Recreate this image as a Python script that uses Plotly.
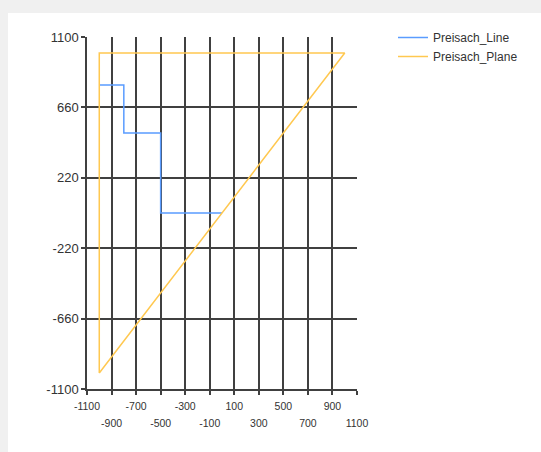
import plotly.graph_objects as go

# Data
line_x = [-1000, -800, -800, -500, -500, 0]
line_y = [800, 800, 500, 500, 0, 0]
plane_x = [-1000, -1000, 1000, -1000]
plane_y = [-1000, 1000, 1000, -1000]

x_ticks_row1 = [-1100, -700, -300, 100, 500, 900]
x_ticks_row2 = [-900, -500, -100, 300, 700, 1100]
x_ticks_all = [-1100, -900, -700, -500, -300, -100, 100, 300, 500, 700, 900, 1100]
y_ticks = [-1100, -660, -220, 220, 660, 1100]

W, H = 541, 452
L, R, T, B = 87, 184, 37, 63
pw, ph = W - L - R, H - T - B

def px_x(p):
    return (p - L) / pw

def px_y(p):
    return (H - B - p) / ph

fig = go.Figure()
fig.add_trace(go.Scatter(x=line_x, y=line_y, mode="lines", name="Preisach_Line",
                         line=dict(color="#5a9cff", width=1.5)))
fig.add_trace(go.Scatter(x=plane_x, y=plane_y, mode="lines", name="Preisach_Plane",
                         line=dict(color="#ffc850", width=1.5)))
# invisible trace to host second label row
fig.add_trace(go.Scatter(x=[x_ticks_all[0], x_ticks_all[-1]], y=[y_ticks[0], y_ticks[0]],
                         xaxis="x2", mode="lines", line=dict(width=0), opacity=0,
                         showlegend=False, hoverinfo="skip"))

font_family = "Liberation Sans, Arial, sans-serif"
grid_col = "#404040"

fig.update_layout(
    width=W, height=H,
    margin=dict(l=L, r=R, t=T, b=B),
    paper_bgcolor="#f0f0f0",
    plot_bgcolor="white",
    font=dict(family=font_family, color="#222222"),
    showlegend=True,
    legend=dict(x=px_x(393), y=px_y(23), xanchor="left", yanchor="top",
                font=dict(size=12, color="#333333"), bgcolor="rgba(0,0,0,0)",
                itemwidth=30, tracegroupgap=0),
    shapes=[dict(type="rect", xref="paper", yref="paper",
                 x0=px_x(8), x1=px_x(W + 5), y0=px_y(H + 5), y1=px_y(13),
                 fillcolor="white", line=dict(width=0), layer="below")],
    xaxis=dict(range=[-1100, 1100], tickvals=x_ticks_all,
               ticktext=[str(v) if v in x_ticks_row1 else "" for v in x_ticks_all],
               tickangle=0, showgrid=True, gridcolor=grid_col, gridwidth=1.5,
               showline=True, linecolor=grid_col, linewidth=1.5,
               ticks="outside", ticklen=4, tickcolor=grid_col, tickwidth=1.5,
               tickfont=dict(size=10.5, color="#333333"), zeroline=False,
               ticklabelstandoff=3),
    xaxis2=dict(range=[-1100, 1100], overlaying="x", anchor="y", side="bottom",
                tickvals=x_ticks_row2, ticktext=[str(v) for v in x_ticks_row2],
                tickangle=0, showgrid=False, showline=False, ticks="",
                tickfont=dict(size=10.5, color="#333333"), zeroline=False,
                ticklabelstandoff=26),
    yaxis=dict(range=[-1100, 1100], tickvals=y_ticks,
               ticktext=[str(v) for v in y_ticks],
               showgrid=True, gridcolor=grid_col, gridwidth=1.5,
               showline=True, linecolor=grid_col, linewidth=1.5,
               ticks="outside", ticklen=4, tickcolor=grid_col, tickwidth=1.5,
               tickfont=dict(size=13, color="#333333"), zeroline=False,
               ticklabelstandoff=0),
)

fig.write_html("out.html", config={"displayModeBar": False},
               post_script="document.body.style.margin='0';"
                           "document.body.style.background='#f0f0f0';")
